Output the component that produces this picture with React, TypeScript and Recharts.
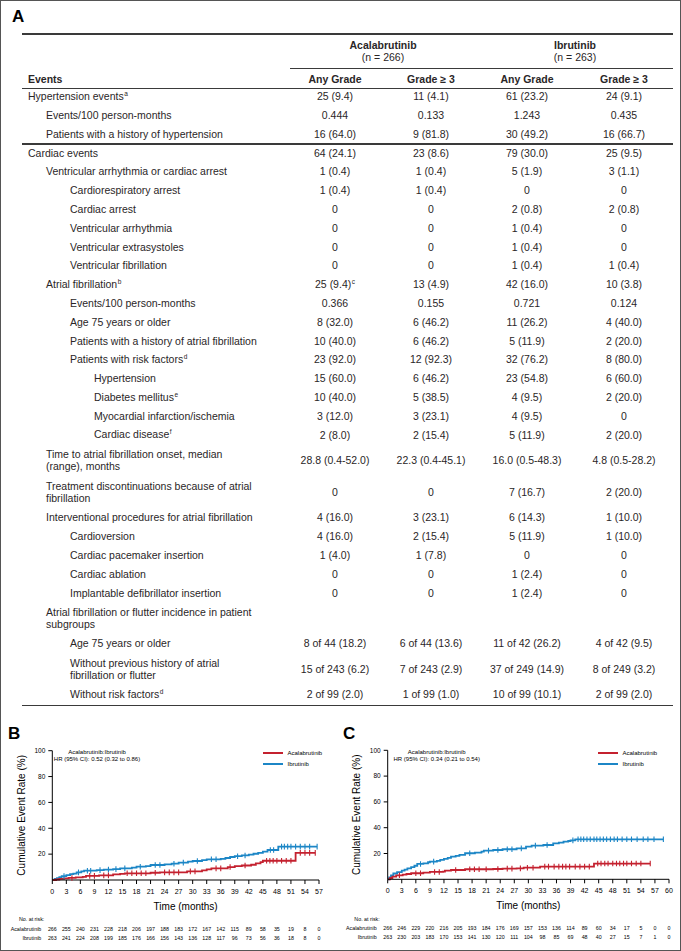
import React from 'react';
import { LineChart, Line, XAxis, YAxis, Legend, Label } from 'recharts';

// ---------------- Table data ----------------
const rowLabels = [
  'Hypertension events',
  'Events/100 person-months',
  'Patients with a history of hypertension',
  'Cardiac events',
  'Ventricular arrhythmia or cardiac arrest',
  'Cardiorespiratory arrest',
  'Cardiac arrest',
  'Ventricular arrhythmia',
  'Ventricular extrasystoles',
  'Ventricular fibrillation',
  'Atrial fibrillation',
  'Events/100 person-months',
  'Age 75 years or older',
  'Patients with a history of atrial fibrillation',
  'Patients with risk factors',
  'Hypertension',
  'Diabetes mellitus',
  'Myocardial infarction/ischemia',
  'Cardiac disease',
  'Time to atrial fibrillation onset, median\n(range), months',
  'Treatment discontinuations because of atrial\nfibrillation',
  'Interventional procedures for atrial fibrillation',
  'Cardioversion',
  'Cardiac pacemaker insertion',
  'Cardiac ablation',
  'Implantable defibrillator insertion',
  'Atrial fibrillation or flutter incidence in patient\nsubgroups',
  'Age 75 years or older',
  'Without previous history of atrial\nfibrillation or flutter',
  'Without risk factors',
];
const rowLevels = [0, 1, 1, 0, 1, 2, 2, 2, 2, 2, 1, 2, 2, 2, 2, 3, 3, 3, 3, 1, 1, 1, 2, 2, 2, 2, 1, 2, 2, 2];
const rowSups = ['a', '', '', '', '', '', '', '', '', '', 'b', '', '', '', 'd', '', 'e', '', 'f', '', '', '', '', '', '', '', '', '', '', 'd'];
const acalaAny = ['25 (9.4)', '0.444', '16 (64.0)', '64 (24.1)', '1 (0.4)', '1 (0.4)', '0', '0', '0', '0', '25 (9.4)', '0.366', '8 (32.0)', '10 (40.0)', '23 (92.0)', '15 (60.0)', '10 (40.0)', '3 (12.0)', '2 (8.0)', '28.8 (0.4-52.0)', '0', '4 (16.0)', '4 (16.0)', '1 (4.0)', '0', '0', '', '8 of 44 (18.2)', '15 of 243 (6.2)', '2 of 99 (2.0)'];
const acalaG3 = ['11 (4.1)', '0.133', '9 (81.8)', '23 (8.6)', '1 (0.4)', '1 (0.4)', '0', '0', '0', '0', '13 (4.9)', '0.155', '6 (46.2)', '6 (46.2)', '12 (92.3)', '6 (46.2)', '5 (38.5)', '3 (23.1)', '2 (15.4)', '22.3 (0.4-45.1)', '0', '3 (23.1)', '2 (15.4)', '1 (7.8)', '0', '0', '', '6 of 44 (13.6)', '7 of 243 (2.9)', '1 of 99 (1.0)'];
const ibruAny = ['61 (23.2)', '1.243', '30 (49.2)', '79 (30.0)', '5 (1.9)', '0', '2 (0.8)', '1 (0.4)', '1 (0.4)', '1 (0.4)', '42 (16.0)', '0.721', '11 (26.2)', '5 (11.9)', '32 (76.2)', '23 (54.8)', '4 (9.5)', '4 (9.5)', '5 (11.9)', '16.0 (0.5-48.3)', '7 (16.7)', '6 (14.3)', '5 (11.9)', '0', '1 (2.4)', '1 (2.4)', '', '11 of 42 (26.2)', '37 of 249 (14.9)', '10 of 99 (10.1)'];
const ibruG3 = ['24 (9.1)', '0.435', '16 (66.7)', '25 (9.5)', '3 (1.1)', '0', '2 (0.8)', '0', '0', '1 (0.4)', '10 (3.8)', '0.124', '4 (40.0)', '2 (20.0)', '8 (80.0)', '6 (60.0)', '2 (20.0)', '0', '2 (20.0)', '4.8 (0.5-28.2)', '2 (20.0)', '1 (10.0)', '1 (10.0)', '0', '0', '0', '', '4 of 42 (9.5)', '8 of 249 (3.2)', '2 of 99 (2.0)'];
const valueSups: Record<string, string> = { '10-0': 'c' };

// ---------------- Kaplan-Meier data [month, %, censored] ----------------
const bAcala: number[][] = [
  [0, 0, 0], [0.8, 0.4, 0], [1.5, 0.8, 0], [2.5, 1.2, 0], [3.5, 1.6, 0], [4.2, 1.6, 1], [5, 2.0, 0], [6.5, 2.4, 0], [7.2, 3.2, 0], [8, 3.2, 1], [9, 3.2, 1], [10, 3.6, 0], [11, 3.6, 1], [12, 3.6, 1], [13, 4.4, 0], [14.5, 4.8, 0], [15.5, 5.2, 0], [16, 5.2, 1], [17, 5.2, 1], [18, 5.2, 1], [19, 5.2, 1], [20, 5.2, 1], [21, 5.6, 0], [22, 5.6, 1], [23, 5.9, 0], [24, 5.9, 1], [25, 5.9, 1], [26, 5.9, 1], [27, 5.9, 1], [28.8, 6.7, 0], [29.5, 6.7, 1], [30.5, 6.7, 1], [32, 7.4, 0], [33, 8.2, 0], [34, 9.0, 0], [35, 9.0, 1], [36, 9.0, 1], [37.5, 10.0, 0], [38, 10.0, 1], [39, 10.8, 0], [40.5, 11.2, 0], [41.2, 11.2, 1], [42.5, 11.8, 0], [43.5, 12.9, 0], [44.5, 13.8, 0], [45, 14.9, 0], [45.8, 14.9, 1], [46.5, 14.9, 1], [47.2, 14.9, 1], [48, 14.9, 1], [49, 14.9, 1], [50, 14.9, 1], [51, 14.9, 1], [52, 21.0, 0], [53, 21.0, 1], [54, 21.0, 1], [55, 21.0, 1], [56.2, 21.0, 1],
];
const bIbru: number[][] = [
  [0, 0, 0], [0.5, 0.8, 0], [1, 1.5, 0], [1.5, 2.3, 0], [2, 3.0, 0], [2.5, 3.0, 1], [3, 3.8, 0], [3.8, 4.6, 0], [4.5, 5.0, 0], [5.2, 5.9, 0], [5.6, 5.9, 1], [6.2, 6.6, 0], [6.8, 7.2, 0], [7.5, 7.2, 1], [8.2, 7.2, 1], [9.5, 7.6, 0], [10.2, 7.6, 1], [11, 8.0, 0], [12, 8.0, 1], [13, 8.4, 0], [13.6, 8.4, 1], [14.5, 9.0, 0], [15.5, 9.0, 1], [17, 9.6, 0], [18, 10.3, 0], [18.8, 10.3, 1], [20, 10.8, 0], [21, 11.6, 0], [22, 11.6, 1], [23, 11.6, 1], [24, 12.1, 0], [25.5, 12.6, 0], [26, 12.6, 1], [27, 13.4, 0], [28, 13.4, 1], [29, 14.2, 0], [30, 14.7, 0], [31, 14.7, 1], [32, 15.4, 0], [33, 16.0, 0], [34, 16.0, 1], [35, 16.0, 1], [36, 16.4, 0], [37, 17.0, 0], [38, 17.8, 0], [39, 18.4, 0], [39.6, 18.4, 1], [40.5, 19.0, 0], [41.2, 19.0, 1], [42, 19.6, 0], [43, 20.3, 0], [44, 21.0, 0], [45, 22.0, 0], [46, 23.2, 0], [46.6, 23.2, 1], [47.3, 23.2, 1], [48.3, 25.8, 0], [49, 25.8, 1], [49.6, 25.8, 1], [50.3, 25.8, 1], [51, 25.8, 1], [52, 25.8, 1], [53, 25.8, 1], [54, 25.8, 1], [55, 25.8, 1], [56.6, 25.8, 1],
];
const cAcala: number[][] = [
  [0, 0, 0], [0.5, 1.0, 0], [1, 2.0, 0], [1.8, 3.1, 0], [2.5, 3.1, 1], [3.2, 3.6, 0], [4, 4.1, 0], [5, 4.7, 0], [6, 4.7, 1], [7, 4.7, 1], [7.6, 5.2, 0], [9, 5.7, 0], [10, 5.7, 1], [11, 5.7, 1], [11.8, 6.0, 0], [12.2, 6.7, 0], [13.5, 7.2, 0], [14.5, 7.2, 1], [16.5, 7.8, 0], [17.5, 7.8, 1], [18.5, 7.8, 1], [19.5, 7.8, 1], [21, 7.8, 1], [22.5, 8.0, 0], [23.5, 8.0, 1], [24.5, 8.3, 0], [25.5, 8.3, 1], [26.5, 8.3, 1], [27.5, 8.5, 0], [28.3, 8.5, 1], [29, 9.0, 0], [29.8, 9.0, 1], [31, 9.0, 1], [32.5, 9.8, 0], [33.5, 9.8, 1], [34.3, 9.8, 1], [35.5, 9.8, 1], [36.5, 9.8, 1], [37.3, 9.8, 1], [38, 9.8, 1], [38.8, 9.8, 1], [40, 9.8, 1], [41, 9.8, 1], [42, 9.8, 1], [43, 9.8, 1], [44, 12.2, 0], [44.8, 12.2, 1], [45.5, 12.2, 1], [46.3, 12.2, 1], [47, 12.2, 1], [48, 12.2, 1], [48.8, 12.2, 1], [49.5, 12.2, 1], [50.3, 12.2, 1], [51, 12.2, 1], [52, 12.2, 1], [53, 12.2, 1], [54, 12.2, 1], [56, 12.2, 1],
];
const cIbru: number[][] = [
  [0, 0, 0], [0.3, 1.5, 0], [0.7, 3.0, 0], [1.2, 4.5, 0], [2, 5.5, 0], [3, 6.7, 0], [3.6, 7.5, 0], [4.2, 8.5, 0], [5, 9.5, 0], [5.7, 10.5, 0], [6.3, 11.9, 0], [7, 11.9, 1], [7.6, 12.4, 0], [8.6, 13.2, 0], [9, 13.7, 0], [9.8, 13.7, 1], [10.5, 14.3, 0], [11.2, 15.0, 0], [12, 15.8, 0], [12.8, 16.6, 0], [13.5, 17.6, 0], [14.5, 18.2, 0], [15.3, 18.9, 0], [16.5, 20.2, 0], [17.5, 20.2, 1], [18.6, 20.7, 0], [20, 21.5, 0], [20.5, 22.2, 0], [21.5, 22.2, 1], [22.5, 22.7, 0], [23.5, 22.7, 1], [24.5, 23.3, 0], [25.5, 23.3, 1], [26.5, 23.3, 1], [27.5, 24.0, 0], [28.5, 24.0, 1], [29.5, 25.3, 0], [30.7, 26.1, 0], [31.5, 26.1, 1], [33.2, 26.6, 0], [34, 26.6, 1], [35.3, 27.9, 0], [36.5, 28.5, 0], [37.5, 29.2, 0], [38.5, 29.7, 0], [39, 30.2, 0], [39.5, 30.2, 1], [40, 31.0, 0], [40.6, 31, 1], [41.2, 31, 1], [41.8, 31, 1], [42.5, 31, 1], [43.2, 31, 1], [44, 31, 1], [44.6, 31, 1], [45.3, 31, 1], [46, 31, 1], [46.7, 31, 1], [47.5, 31, 1], [48.3, 31, 1], [49, 31, 1], [50, 31, 1], [51, 31, 1], [52, 31, 1], [53.2, 31, 1], [54.5, 31, 1], [55.5, 31, 1], [56.8, 31, 1], [58.8, 31, 1],
];

// ---------------- Axis ticks & at-risk numbers ----------------
const bTicks = [0, 3, 6, 9, 12, 15, 18, 21, 24, 27, 30, 33, 36, 39, 42, 45, 48, 51, 54, 57];
const cTicks = [0, 3, 6, 9, 12, 15, 18, 21, 24, 27, 30, 33, 36, 39, 42, 45, 48, 51, 54, 57, 60];
const yTicks = [20, 40, 60, 80, 100];
const bRiskAcala = [266, 255, 240, 231, 228, 218, 206, 197, 188, 183, 172, 167, 142, 115, 89, 58, 35, 19, 8, 0];
const bRiskIbru = [263, 241, 224, 208, 199, 185, 176, 166, 156, 143, 136, 128, 117, 96, 73, 56, 36, 18, 8, 0];
const cRiskAcala = [266, 246, 229, 220, 216, 205, 193, 184, 176, 169, 157, 153, 136, 114, 89, 60, 34, 17, 5, 0, 0];
const cRiskIbru = [263, 230, 203, 183, 170, 153, 141, 130, 120, 111, 104, 98, 85, 69, 48, 40, 27, 15, 7, 1, 0];
const bHR = 'HR (95% CI): 0.52 (0.32 to 0.86)';
const cHR = 'HR (95% CI): 0.34 (0.21 to 0.54)';

// ---------------- Styles ----------------
const FONT = '"Liberation Sans", Arial, sans-serif';
const TEXT = '#2a2627';
const RED = '#c4212f';
const BLUE = '#1c86c6';

const levelX = [28, 46, 70, 94];
const colX = [335, 431, 527, 624];

const toPts = (arr: number[][]) => arr.map(([t, v, c]) => ({ t, v, c }));

const censorDot = (color: string) => (props: any) => {
  const { cx, cy, payload, index } = props;
  if (!payload || !payload.c || cx == null || cy == null) return <g key={`d${index}`} />;
  return <line key={`d${index}`} x1={cx} x2={cx} y1={cy - 2.8} y2={cy + 2.8} stroke={color} strokeWidth={1.1} />;
};

const makeTick = (ticks: number[], riskA: number[], riskI: number[]) => (props: any) => {
  const { x, y, payload } = props;
  const i = ticks.indexOf(payload.value);
  const fs = 5.3;
  return (
    <g>
      <text x={x} y={y + 8} textAnchor="middle" fontSize={7} fill="#000">{payload.value}</text>
      <text x={x} y={y + 44.9} textAnchor="middle" fontSize={fs} fill="#000">{riskA[i]}</text>
      <text x={x} y={y + 53.9} textAnchor="middle" fontSize={fs} fill="#000">{riskI[i]}</text>
      {i === 0 && (
        <g>
          <text x={x - 8} y={y + 35.2} textAnchor="end" fontSize={fs} fill="#000">No. at risk:</text>
          <text x={x - 11} y={y + 44.9} textAnchor="end" fontSize={fs} fill="#000">Acalabrutinib</text>
          <text x={x - 11} y={y + 53.9} textAnchor="end" fontSize={fs} fill="#000">Ibrutinib</text>
        </g>
      )}
    </g>
  );
};

const LegendBox = () => (
  <svg width={80} height={22} style={{ display: 'block', overflow: 'visible' }}>
    <line x1={0} x2={20} y1={4} y2={4} stroke={RED} strokeWidth={2} />
    <text x={24.5} y={6} fontSize={6} fill="#000" fontFamily={FONT}>Acalabrutinib</text>
    <line x1={0} x2={20} y1={15} y2={15} stroke={BLUE} strokeWidth={2} />
    <text x={24.5} y={17} fontSize={6} fill="#000" fontFamily={FONT}>Ibrutinib</text>
  </svg>
);

type PanelProps = {
  left: number; top: number; width: number; height: number;
  yAxisW: number; mTop: number; mRight: number; xAxisH: number;
  xMax: number; ticks: number[]; acala: number[][]; ibru: number[][];
  riskA: number[]; riskI: number[]; hr: string; letter: string; hrCenter: number; legLeft: number;
};

function KMPanel(p: PanelProps) {
  return (
    <div style={{ position: 'absolute', left: p.left, top: p.top, width: p.width, height: p.height }}>
      <LineChart
        width={p.width}
        height={p.height}
        margin={{ top: p.mTop, right: p.mRight, bottom: 0, left: 0 }}
        style={{ fontFamily: FONT }}
      >
        <XAxis
          type="number"
          dataKey="t"
          domain={[0, p.xMax]}
          ticks={p.ticks}
          interval={0}
          height={p.xAxisH}
          tickSize={4}
          tickMargin={2}
          axisLine={{ stroke: '#000', strokeWidth: 1 }}
          tickLine={{ stroke: '#000', strokeWidth: 1 }}
          tick={makeTick(p.ticks, p.riskA, p.riskI)}
          allowDataOverflow
        >
          <Label value="Time (months)" position="insideTop" offset={22.5} style={{ fontSize: 10, fill: '#000', fontFamily: FONT }} />
        </XAxis>
        <YAxis
          type="number"
          domain={[0, 100]}
          ticks={yTicks}
          interval={0}
          width={p.yAxisW}
          tickSize={4}
          tickMargin={3}
          tick={{ fontSize: 6.5, fill: '#000' }}
          axisLine={{ stroke: '#000', strokeWidth: 1 }}
          tickLine={{ stroke: '#000', strokeWidth: 1 }}
        >
          <Label value="Cumulative Event Rate (%)" angle={-90} position="insideLeft" offset={21.7} style={{ textAnchor: 'middle', fontSize: 10, fill: '#000', fontFamily: FONT }} />
        </YAxis>
        <Legend
          layout="vertical"
          align="center"
          verticalAlign="middle"
          wrapperStyle={{ left: p.legLeft, top: 9, width: 80, height: 22 }}
          content={() => <LegendBox />}
        />
        <Line
          data={toPts(p.ibru)}
          dataKey="v"
          type="stepAfter"
          stroke={BLUE}
          strokeWidth={1.8}
          dot={censorDot(BLUE)}
          activeDot={false}
          isAnimationActive={false}
          name="Ibrutinib"
        />
        <Line
          data={toPts(p.acala)}
          dataKey="v"
          type="stepAfter"
          stroke={RED}
          strokeWidth={1.8}
          dot={censorDot(RED)}
          activeDot={false}
          isAnimationActive={false}
          name="Acalabrutinib"
        />
      </LineChart>
      <div style={{ position: 'absolute', left: p.hrCenter - 70, top: 9.3, width: 140, textAlign: 'center', fontSize: 6, lineHeight: '6.7px', color: '#000', fontFamily: FONT }}>
        <div>Acalabrutinib:Ibrutinib</div>
        <div>{p.hr}</div>
      </div>
      <div style={{ position: 'absolute', left: 8, top: -15, fontSize: 17, fontWeight: 'bold', color: '#000', fontFamily: FONT, lineHeight: '17px' }}>{p.letter}</div>
    </div>
  );
}

function Sup({ s }: { s: string }) {
  if (!s) return null;
  return <span style={{ fontSize: 6.5, position: 'relative', top: -4, marginLeft: 0.5 }}>{s}</span>;
}

export default function App() {
  let y = 87.6;
  const layout = rowLabels.map((lab) => {
    const lines = lab.split('\n').length;
    const h = lines > 1 ? 32 : 18.8;
    const top = y;
    y += h;
    return { top, h };
  });
  const bottomY = y;
  const cols = [acalaAny, acalaG3, ibruAny, ibruG3];
  const rule = (top: number, left: number, right: number, th: number) => (
    <div style={{ position: 'absolute', left, top: top - th / 2, width: right - left, height: th, background: '#3a3a3a' }} />
  );
  const cellBase: React.CSSProperties = { position: 'absolute', display: 'flex', alignItems: 'center', fontSize: 10.5, lineHeight: '11.5px', whiteSpace: 'pre' };

  return (
    <div style={{ position: 'absolute', left: 0, top: 0, width: 681, height: 951, background: '#fff', fontFamily: FONT, color: TEXT, overflow: 'hidden' }}>
      {/* Panel A: table */}
      <div style={{ position: 'absolute', left: 12, top: 8, fontSize: 17, fontWeight: 'bold', color: '#000', lineHeight: '17px' }}>A</div>
      {rule(34.3, 22, 673, 1.8)}
      <div style={{ ...cellBase, left: 283, width: 200, top: 40, height: 12, justifyContent: 'center', fontWeight: 'bold' }}>Acalabrutinib</div>
      <div style={{ ...cellBase, left: 283, width: 200, top: 51.5, height: 12, justifyContent: 'center' }}>(n = 266)</div>
      <div style={{ ...cellBase, left: 475, width: 200, top: 40, height: 12, justifyContent: 'center', fontWeight: 'bold' }}>Ibrutinib</div>
      <div style={{ ...cellBase, left: 475, width: 200, top: 51.5, height: 12, justifyContent: 'center' }}>(n = 263)</div>
      {rule(68.3, 290, 673, 1)}
      <div style={{ ...cellBase, left: levelX[0], top: 73.5, height: 12, fontWeight: 'bold' }}>Events</div>
      {['Any Grade', 'Grade \u2265 3', 'Any Grade', 'Grade \u2265 3'].map((h, i) => (
        <div key={`h${i}`} style={{ ...cellBase, left: colX[i] - 60, width: 120, top: 73.5, height: 12, justifyContent: 'center', fontWeight: 'bold' }}>{h}</div>
      ))}
      {rule(88.3, 22, 673, 1.2)}
      {rowLabels.map((lab, r) => (
        <React.Fragment key={`r${r}`}>
          <div style={{ ...cellBase, left: levelX[rowLevels[r]], top: layout[r].top, height: layout[r].h }}>
            <span>{lab}<Sup s={rowSups[r]} /></span>
          </div>
          {cols.map((col, c) => (
            <div key={`c${r}-${c}`} style={{ ...cellBase, left: colX[c] - 60, width: 120, top: layout[r].top, height: layout[r].h, justifyContent: 'center' }}>
              <span>{col[r]}<Sup s={valueSups[`${r}-${c}`] || ''} /></span>
            </div>
          ))}
        </React.Fragment>
      ))}
      {rule(layout[3].top, 22, 673, 1.8)}
      {rule(bottomY + 1, 22, 673, 1.8)}

      {/* Panel B */}
      <KMPanel
        left={0} top={740} width={340} height={206}
        yAxisW={52.3} mTop={10.7} mRight={21} xAxisH={66}
        xMax={57} ticks={bTicks} acala={bAcala} ibru={bIbru}
        riskA={bRiskAcala} riskI={bRiskIbru} hr={bHR} letter="B" hrCenter={97} legLeft={263}
      />
      {/* Panel C */}
      <KMPanel
        left={335} top={740} width={346} height={206}
        yAxisW={52.7} mTop={10.3} mRight={12} xAxisH={66.7}
        xMax={60} ticks={cTicks} acala={cAcala} ibru={cIbru}
        riskA={cRiskAcala} riskI={cRiskIbru} hr={cHR} letter="C" hrCenter={101.7} legLeft={263}
      />
      <div style={{ position: 'absolute', left: 0, top: 0, width: 681, height: 951, boxSizing: 'border-box', border: '1px solid #555', pointerEvents: 'none' }} />
    </div>
  );
}
